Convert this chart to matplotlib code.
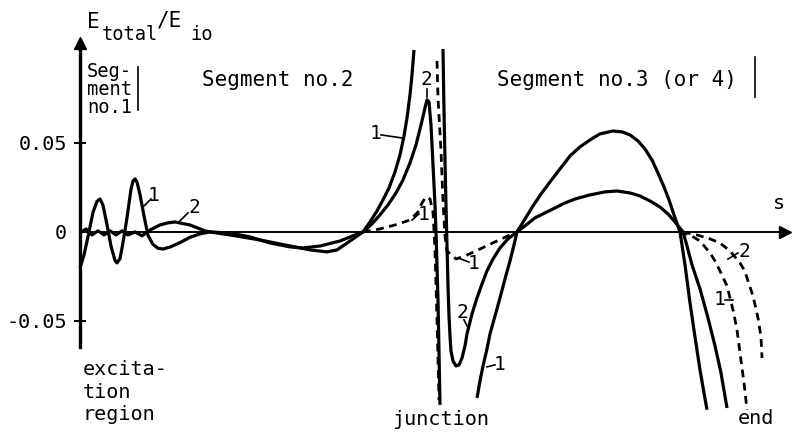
import matplotlib
matplotlib.use("Agg")
import matplotlib.pyplot as plt

plt.rcParams['font.family'] = 'DejaVu Sans Mono'

# distance along the antenna (arbitrary units) and normalised total field
curve1_left_s = [0, 0.04, 0.09, 0.13, 0.17, 0.20, 0.23, 0.27, 0.31, 0.35, 0.37, 0.40,
                 0.43, 0.47, 0.51, 0.53, 0.55, 0.57, 0.60, 0.64, 0.68, 0.73, 0.78,
                 0.83, 0.90, 1.00, 1.10, 1.20, 1.30, 1.50, 1.70, 1.90, 2.10, 2.23,
                 2.40, 2.60, 2.75, 2.83, 2.90, 2.97, 3.03, 3.09, 3.15, 3.20, 3.24,
                 3.27, 3.30, 3.32, 3.34]
curve1_left_E = [-0.0202, -0.0130, 0.0, 0.0110, 0.0172, 0.0185, 0.0150, 0.0040,
                 -0.0080, -0.0160, -0.0174, -0.0150, -0.0060, 0.0080, 0.0240,
                 0.0285, 0.0298, 0.0280, 0.0210, 0.0090, -0.0020, -0.0070, -0.0092,
                 -0.0096, -0.0085, -0.0060, -0.0030, -0.0011, 0.0, -0.0006, -0.0028,
                 -0.0062, -0.0084, -0.0090, -0.0079, -0.0051, -0.0017, 0.0, 0.0056,
                 0.0118, 0.0180, 0.0247, 0.0337, 0.0433, 0.0539, 0.0640, 0.0770,
                 0.0882, 0.1022]

curve2_left_s = [0, 0.06, 0.12, 0.18, 0.24, 0.30, 0.36, 0.42, 0.48, 0.55, 0.62, 0.70,
                 0.80, 0.88, 0.95, 1.10, 1.25, 1.30, 1.50, 1.80, 2.10, 2.30, 2.47,
                 2.57, 2.70, 2.83, 2.92, 3.00, 3.08, 3.16, 3.23, 3.30, 3.36, 3.41,
                 3.45, 3.47, 3.49, 3.51, 3.53, 3.55, 3.56, 3.58, 3.60]
curve2_left_E = [-0.0006, 0.0017, -0.0017, 0.0006, -0.0017, 0.0006, -0.0017, 0.0006,
                 -0.0017, 0.0, -0.0022, 0.0011, 0.0039, 0.0051, 0.0056, 0.0039,
                 0.0006, 0.0, -0.0017, -0.0045, -0.0079, -0.0101, -0.0112, -0.0101,
                 -0.0051, 0.0, 0.0045, 0.0096, 0.0152, 0.0219, 0.0292, 0.0388, 0.0489,
                 0.0601, 0.0697, 0.0742, 0.0730, 0.0601, 0.0376, 0.0152, 0.0, -0.0382,
                 -0.0972]

dash1_left_s = [2.83, 3.00, 3.15, 3.30, 3.38, 3.42, 3.46, 3.50, 3.53, 3.55, 3.57, 3.59]
dash1_left_E = [0.0, 0.0017, 0.0039, 0.0067, 0.0112, 0.0163, 0.0197, 0.0185, 0.0112,
                -0.0101, -0.0494, -0.0944]

curve1_right_s = [3.97, 4.00, 4.03, 4.07, 4.10, 4.15, 4.20, 4.25, 4.30, 4.34, 4.37,
                  4.45, 4.53, 4.61, 4.70, 4.80, 4.90, 5.00, 5.10, 5.20, 5.33, 5.42,
                  5.50, 5.58, 5.65, 5.72, 5.78, 5.84, 5.89, 5.94, 6.00, 6.05, 6.10,
                  6.15, 6.20, 6.24, 6.27]
curve1_right_E = [-0.0933, -0.0837, -0.0753, -0.0657, -0.0573, -0.0472, -0.0371,
                  -0.0264, -0.0163, -0.0073, 0.0, 0.0073, 0.0146, 0.0213, 0.0281,
                  0.0354, 0.0427, 0.0478, 0.0517, 0.0551, 0.0567, 0.0562, 0.0545,
                  0.0511, 0.0466, 0.0404, 0.0331, 0.0253, 0.0180, 0.0096, 0.0,
                  -0.0185, -0.0399, -0.0590, -0.0775, -0.0904, -0.0999]

curve2_right_s = [3.63, 3.64, 3.65, 3.66, 3.67, 3.68, 3.69, 3.70, 3.71, 3.73, 3.76,
                  3.79, 3.82, 3.85, 3.87, 3.92, 3.97, 4.02, 4.07, 4.13, 4.20, 4.28,
                  4.37, 4.45, 4.55, 4.65, 4.75, 4.85, 4.95, 5.10, 5.25, 5.37, 5.50,
                  5.60, 5.70, 5.80, 5.88, 5.95, 6.03, 6.07, 6.12, 6.20, 6.28, 6.35,
                  6.41, 6.47]
curve2_right_E = [0.1028, 0.0680, 0.0399, 0.0146, -0.0079, -0.0303, -0.0472, -0.0584,
                  -0.0669, -0.0725, -0.0753, -0.0747, -0.0708, -0.0640, -0.0573,
                  -0.0461, -0.0371, -0.0292, -0.0219, -0.0152, -0.0090, -0.0039, 0.0,
                  0.0034, 0.0079, 0.0107, 0.0135, 0.0163, 0.0185, 0.0208, 0.0225,
                  0.0230, 0.0219, 0.0202, 0.0174, 0.0140, 0.0101, 0.0056, 0.0, -0.0079,
                  -0.0185, -0.0320, -0.0483, -0.0640, -0.0792, -0.0989]

dash1_right_s = [3.57, 3.58, 3.61, 3.63, 3.65, 3.67, 3.76, 3.85, 4.00, 4.15, 4.28, 4.37]
dash1_right_E = [0.0961, 0.0753, 0.0455, 0.0174, -0.0022, -0.0107, -0.0152, -0.0135,
                 -0.0096, -0.0056, -0.0022, 0.0]

dash1_end_s = [6.00, 6.10, 6.20, 6.30, 6.35, 6.40, 6.47, 6.53, 6.57, 6.60, 6.64, 6.67]
dash1_end_E = [0.0, -0.0017, -0.0051, -0.0118, -0.0163, -0.0219, -0.0303, -0.0438,
               -0.0550, -0.0680, -0.0848, -0.0999]

dash2_end_s = [6.03, 6.17, 6.30, 6.40, 6.50, 6.60, 6.65, 6.68, 6.73, 6.78, 6.81, 6.82]
dash2_end_E = [0.0, -0.0017, -0.0039, -0.0062, -0.0107, -0.0174, -0.0222, -0.0275,
               -0.0360, -0.0483, -0.0590, -0.0708]

ytick_vals = [-0.05, 0, 0.05]
ytick_text = ['-0.05', '0', '0.05']

fig = plt.figure(figsize=(7.95, 4.32), dpi=100)
ax = fig.add_axes([0, 0, 1, 1])
ax.set_xlim(-0.80, 7.15)
ax.set_ylim(-0.1124, 0.1303)

solid = dict(color='black', lw=2.3, solid_joinstyle='round', solid_capstyle='butt')
dashed = dict(color='black', lw=2.0, ls=(0, (2.8, 2.0)))

ax.plot(curve1_left_s, curve1_left_E, **solid)
ax.plot(curve2_left_s, curve2_left_E, **solid)
ax.plot(curve1_right_s, curve1_right_E, **solid)
ax.plot(curve2_right_s, curve2_right_E, **solid)
ax.plot(dash1_left_s, dash1_left_E, **dashed)
ax.plot(dash1_right_s, dash1_right_E, **dashed)
ax.plot(dash1_end_s, dash1_end_E, **dashed)
ax.plot(dash2_end_s, dash2_end_E, **dashed)

# axes through the origin
for side in ['top', 'right']:
    ax.spines[side].set_visible(False)
ax.spines['left'].set_position(('data', 0))
ax.spines['bottom'].set_position(('data', 0))
ax.spines['left'].set_bounds(-0.0646, 0.103)
ax.spines['bottom'].set_bounds(0, 7.0)
ax.spines['left'].set_linewidth(2.4)
ax.spines['bottom'].set_linewidth(1.4)
ax.plot(0, 0.1060, marker='^', ms=9, color='black', clip_on=False)
ax.plot(7.05, 0, marker='>', ms=9, color='black', clip_on=False)

ax.set_xticks([])
ax.set_yticks(ytick_vals)
ax.set_yticklabels(ytick_text)
ax.tick_params(axis='y', direction='inout', length=9, width=1.4, pad=5, labelsize=14.5)
ax.yaxis.get_major_ticks()[1].tick1line.set_visible(False)

# axis titles
ax.text(0.07, 0.118, 'E', fontsize=15, ha='left', va='center')
ax.text(0.22, 0.111, 'total', fontsize=13.5, ha='left', va='center')
ax.text(0.77, 0.119, '/E', fontsize=15, ha='left', va='center')
ax.text(1.10, 0.1107, 'io', fontsize=13.5, ha='left', va='center')
ax.text(6.99, 0.0157, 's', fontsize=14.5, ha='center', va='center')

# segment annotations
ax.text(0.07, 0.0955, 'Seg-\nment\nno.1', fontsize=13.5, ha='left', va='top',
        linespacing=0.95)
ax.plot([0.58, 0.58], [0.0685, 0.0927], color='black', lw=1.2)
ax.text(1.22, 0.0854, 'Segment no.2', fontsize=15, ha='left', va='center')
ax.text(4.17, 0.0854, 'Segment no.3 (or 4)', fontsize=15, ha='left', va='center')
ax.plot([6.75, 6.75], [0.0758, 0.0983], color='black', lw=1.2)

ax.text(0.03, -0.0719, 'excita-\ntion\nregion', fontsize=14.5, ha='left', va='top',
        linespacing=1.25)
ax.text(3.61, -0.1056, 'junction', fontsize=14.5, ha='center', va='center')
ax.text(6.58, -0.1050, 'end', fontsize=14.5, ha='left', va='center')

# curve numbers with short leaders
labels = [
    ('1', 0.74, 0.0202, (0.64, 0.71), (0.0146, 0.0185)),
    ('2', 1.14, 0.0140, (0.98, 1.08), (0.0051, 0.0107)),
    ('1', 2.95, 0.0551, (3.01, 3.22), (0.0545, 0.0528)),
    ('2', 3.46, 0.0854, (3.47, 3.47), (0.0803, 0.0758)),
    ('1', 3.44, 0.0096, (3.32, 3.39), (0.0067, 0.0101)),
    ('1', 3.94, -0.0180, (3.78, 3.89), (-0.0146, -0.0169)),
    ('2', 3.82, -0.0450, (3.84, 3.88), (-0.0494, -0.0539)),
    ('1', 4.20, -0.0747, (4.07, 4.15), (-0.0758, -0.0747)),
    ('1', 6.40, -0.0382, (6.45, 6.53), (-0.0382, -0.0382)),
    ('2', 6.64, -0.0112, (6.48, 6.58), (-0.0152, -0.0118)),
]
for txt, x, y, lx, ly in labels:
    ax.text(x, y, txt, fontsize=14, ha='center', va='center')
    ax.plot(lx, ly, color='black', lw=1.2)

fig.savefig('out.png', dpi=100)
